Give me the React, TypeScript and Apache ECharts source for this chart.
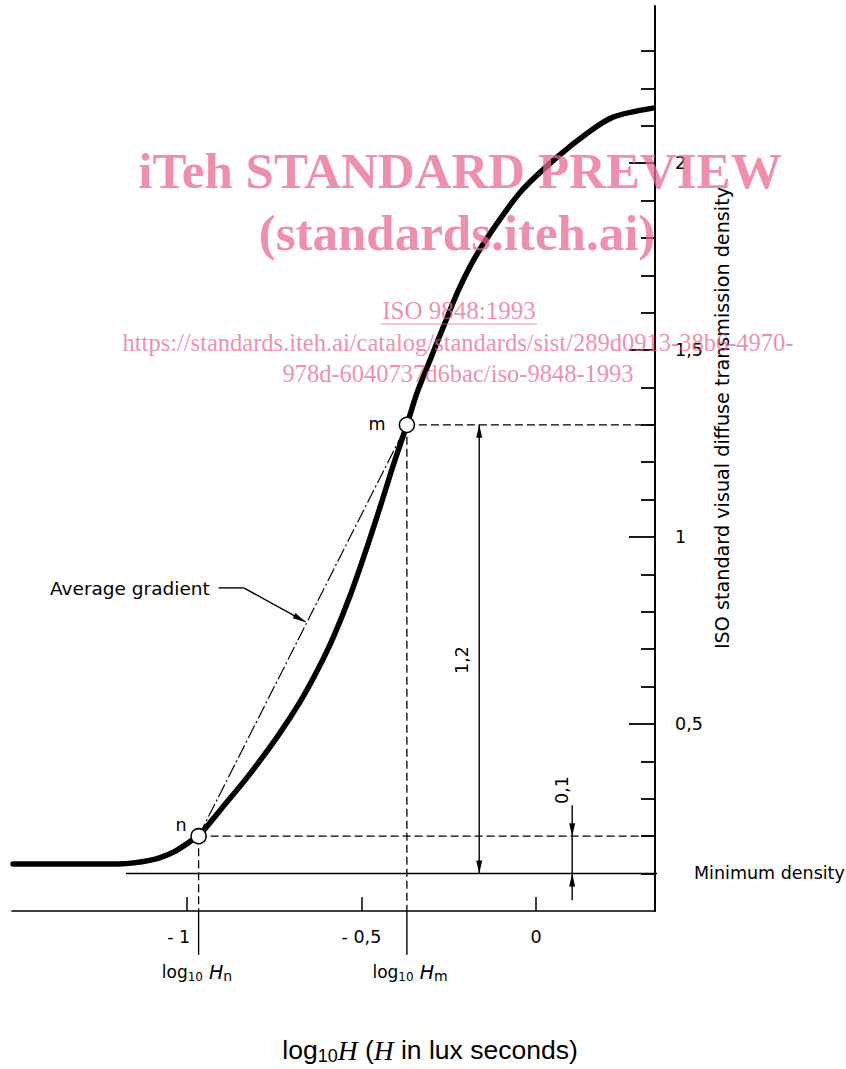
import React, { useEffect, useRef } from "react";
import * as echarts from "echarts";

// ---- data (log10 H, density) ----
const curveX = [-1.497, -1.197, -1.103, -1.037, -0.983, -0.966, -0.903, -0.823, -0.74, -0.674, -0.623, -0.58, -0.531, -0.483, -0.446, -0.409, -0.37, -0.34, -0.297, -0.26, -0.223, -0.174, -0.111, -0.04, 0.06, 0.146, 0.22, 0.334];
const curveY = [0.126, 0.126, 0.136, 0.158, 0.19, 0.2, 0.271, 0.362, 0.467, 0.562, 0.649, 0.733, 0.847, 0.976, 1.082, 1.192, 1.3, 1.388, 1.489, 1.575, 1.659, 1.749, 1.84, 1.928, 2.016, 2.08, 2.123, 2.147];
const pointN = [-0.966, 0.2];
const pointM = [-0.37, 1.3];
const minDensity = 0.1;
const minDensityRange = [-1.174, 0.426];
const xRange = [-1.5, 0.34];
const yRange = [0, 2.42];
const xTickValues = [-1, -0.5, 0];
const yMajorValues = [0.5, 1, 1.5, 2];
const yMinorValues = [0.1, 0.2, 0.3, 0.4, 0.6, 0.7, 0.8, 0.9, 1.1, 1.2, 1.3, 1.4, 1.6, 1.7, 1.8, 1.9, 2.1, 2.2, 2.3];
const belowAxis = -0.117;
// arrows: x1, y1, x2, y2, headAtStart, headAtEnd
const arrow12 = [-0.163, minDensity, -0.163, pointM[1], 1, 1];
const arrow01Top = [0.103, 0.283, 0.103, pointN[1], 0, 1];
const arrow01Mid = [0.103, pointN[1], 0.103, minDensity, 0, 0];
const arrow01Bottom = [0.103, 0.029, 0.103, minDensity, 0, 1];
const leaderA = [-0.909, 0.864, -0.837, 0.864, 0, 0];
const leaderB = [-0.837, 0.864, -0.66, 0.773, 0, 1];

const TECH = '"DejaVu Sans", "Noto Sans", sans-serif';
const SANS = '"Liberation Sans", Arial, sans-serif';
const SERIF = '"Liberation Serif", "Times New Roman", serif';
const PINK = "rgba(235,106,144,0.75)";

const comma = (v: number) => String(v).replace(".", ",");

export default function App() {
  const ref = useRef<HTMLDivElement>(null);
  useEffect(() => {
    if (!ref.current) return;
    const chart = echarts.init(ref.current, null, { renderer: "svg" });
    const curve = curveX.map((x, i) => [x, curveY[i]]);
    const dashed = { color: "#000", width: 1.3, type: [8, 4] as any };
    const solid = { color: "#000", width: 1.4 };
    const lineS = (data: number[][], lineStyle: any, z = 2) => ({
      type: "line",
      data,
      symbol: "none",
      clip: false,
      lineStyle,
      z,
      silent: true,
    });
    const logRich = {
      l: { fontSize: 17, fontFamily: TECH, lineHeight: 22 },
      s: { fontSize: 12, fontFamily: TECH, lineHeight: 12, verticalAlign: "bottom" },
      h: { fontSize: 19, fontFamily: TECH, fontStyle: "italic", lineHeight: 22 },
      t: { fontSize: 14, fontFamily: TECH, lineHeight: 14, verticalAlign: "bottom" },
    };
    const option: any = {
      animation: false,
      backgroundColor: "#fff",
      grid: { left: 12, right: 191, top: 6, bottom: 158, containLabel: false },
      xAxis: {
        type: "value",
        min: xRange[0],
        max: xRange[1],
        axisLine: { show: true, onZero: false, lineStyle: { color: "#000", width: 1.6 } },
        axisTick: { show: true, inside: true, length: 14, customValues: xTickValues, lineStyle: { color: "#000", width: 1.5 } },
        axisLabel: {
          customValues: xTickValues,
          margin: 17,
          color: "#000",
          fontSize: 17.5,
          fontFamily: TECH,
          formatter: (v: number) => (v === 0 ? "0" : v === -1 ? "{p|- 1}" : "- " + comma(Math.abs(v))),
          rich: { p: { fontSize: 17.5, fontFamily: TECH, color: "#000", padding: [0, 16, 0, 0] } },
        },
        splitLine: { show: false },
      },
      yAxis: [
        {
          type: "value",
          position: "right",
          min: yRange[0],
          max: yRange[1],
          axisLine: { show: true, onZero: false, lineStyle: { color: "#000", width: 2 } },
          axisTick: { show: true, inside: true, length: 26, customValues: yMajorValues, lineStyle: { color: "#000", width: 1.8 } },
          axisLabel: {
            customValues: yMajorValues,
            margin: 20,
            color: "#000",
            fontSize: 17.5,
            fontFamily: TECH,
            formatter: (v: number) => comma(v),
          },
          splitLine: { show: false },
        },
        {
          type: "value",
          position: "right",
          min: yRange[0],
          max: yRange[1],
          axisLine: { show: false, onZero: false },
          axisTick: { show: true, inside: true, length: 14, customValues: yMinorValues, lineStyle: { color: "#000", width: 1.8 } },
          axisLabel: { show: false },
          splitLine: { show: false },
        },
      ],
      series: [
        lineS([pointN, [xRange[1], pointN[1]]], dashed),
        lineS([pointM, [xRange[1], pointM[1]]], dashed),
        lineS([pointN, [pointN[0], 0]], dashed),
        lineS([pointM, [pointM[0], 0]], dashed),
        lineS([[pointN[0], 0], [pointN[0], belowAxis]], solid),
        lineS([[pointM[0], 0], [pointM[0], belowAxis]], solid),
        lineS([[minDensityRange[0], minDensity], [minDensityRange[1], minDensity]], { color: "#000", width: 1.5 }),
        lineS([pointN, pointM], { color: "#000", width: 1.2, type: [14, 3, 2, 3] }),
        {
          type: "line",
          data: curve,
          symbol: "none",
          smooth: 0.3,
          clip: false,
          lineStyle: { color: "#000", width: 5.5, cap: "round" },
          z: 3,
          silent: true,
        },
        {
          type: "custom",
          clip: false,
          silent: true,
          z: 3,
          encode: { x: [0, 2], y: [1, 3] },
          data: [arrow12, arrow01Top, arrow01Mid, arrow01Bottom, leaderA, leaderB],
          renderItem: (params: any, api: any) => {
            const p1 = api.coord([api.value(0), api.value(1)]);
            const p2 = api.coord([api.value(2), api.value(3)]);
            const children: any[] = [
              { type: "line", shape: { x1: p1[0], y1: p1[1], x2: p2[0], y2: p2[1] }, style: { stroke: "#000", lineWidth: 1.4 } },
            ];
            const head = (tip: number[], from: number[]) => {
              const dx = tip[0] - from[0];
              const dy = tip[1] - from[1];
              const len = Math.hypot(dx, dy) || 1;
              const ux = dx / len;
              const uy = dy / len;
              const L = 13;
              const W = 3;
              const bx = tip[0] - ux * L;
              const by = tip[1] - uy * L;
              return {
                type: "polygon",
                shape: { points: [[tip[0], tip[1]], [bx - uy * W, by + ux * W], [bx + uy * W, by - ux * W]] },
                style: { fill: "#000" },
              };
            };
            if (api.value(4)) children.push(head(p1, p2));
            if (api.value(5)) children.push(head(p2, p1));
            return { type: "group", children };
          },
        },
        {
          type: "scatter",
          data: [pointN, pointM],
          symbol: "circle",
          symbolSize: 15,
          itemStyle: { color: "#fff", borderColor: "#000", borderWidth: 1.5, opacity: 1 },
          z: 5,
          silent: true,
        },
      ],
      graphic: [
        { type: "text", x: 50, y: 588, style: { text: "Average gradient", fontSize: 18.5, fontFamily: TECH, fill: "#000", verticalAlign: "middle", align: "left" } },
        { type: "text", x: 377, y: 424, style: { text: "m", fontSize: 17.5, fontFamily: TECH, fill: "#000", verticalAlign: "middle", align: "center" } },
        { type: "text", x: 181, y: 825, style: { text: "n", fontSize: 17.5, fontFamily: TECH, fill: "#000", verticalAlign: "middle", align: "center" } },
        { type: "text", x: 462, y: 660, rotation: Math.PI / 2, style: { text: "1,2", fontSize: 17.5, fontFamily: TECH, fill: "#000", verticalAlign: "middle", align: "center" } },
        { type: "text", x: 562, y: 790, rotation: Math.PI / 2, style: { text: "0,1", fontSize: 17.5, fontFamily: TECH, fill: "#000", verticalAlign: "middle", align: "center" } },
        { type: "text", x: 694, y: 873, style: { text: "Minimum density", fontSize: 17.5, fontFamily: TECH, fill: "#000", verticalAlign: "middle", align: "left" } },
        { type: "text", x: 722, y: 418, rotation: Math.PI / 2, style: { text: "ISO standard visual diffuse transmission density", fontSize: 19.2, fontFamily: TECH, fill: "#000", verticalAlign: "middle", align: "center" } },
        { type: "text", x: 197, y: 972, style: { text: "{l|log}{s|10}{h| H}{t|n}", align: "center", verticalAlign: "middle", fill: "#000", rich: logRich } },
        { type: "text", x: 410, y: 972, style: { text: "{l|log}{s|10}{h| H}{t|m}", align: "center", verticalAlign: "middle", fill: "#000", rich: logRich } },
        {
          type: "text", x: 430, y: 1050,
          style: {
            text: "{a|log}{s|10}{h|H}{a| (}{h|H}{a| in lux seconds)}", align: "center", verticalAlign: "middle", fill: "#000",
            rich: {
              a: { fontSize: 26.5, fontFamily: SANS, lineHeight: 30 },
              s: { fontSize: 18, fontFamily: SANS, lineHeight: 16, verticalAlign: "bottom" },
              h: { fontSize: 27.5, fontFamily: SERIF, fontStyle: "italic", lineHeight: 30 },
            },
          },
        },
        // watermark
        { type: "text", x: 460, y: 145, z: 100, style: { text: "iTeh STANDARD PREVIEW", fontSize: 51, fontWeight: "bold", fontFamily: SERIF, fill: PINK, align: "center", verticalAlign: "top" } },
        { type: "text", x: 457, y: 207, z: 100, style: { text: "(standards.iteh.ai)", fontSize: 51, fontWeight: "bold", fontFamily: SERIF, fill: PINK, align: "center", verticalAlign: "top" } },
        { type: "text", x: 459, y: 298, z: 100, style: { text: "ISO 9848:1993", fontSize: 25, fontFamily: SERIF, fill: PINK, align: "center", verticalAlign: "top" } },
        { type: "line", z: 100, shape: { x1: 381, y1: 324, x2: 537, y2: 324 }, style: { stroke: PINK, lineWidth: 1.2 } },
        { type: "text", x: 458, y: 330, z: 100, style: { text: "https://standards.iteh.ai/catalog/standards/sist/289d0913-38b6-4970-", fontSize: 24.5, fontFamily: SERIF, fill: PINK, align: "center", verticalAlign: "top" } },
        { type: "text", x: 458, y: 361, z: 100, style: { text: "978d-6040737d6bac/iso-9848-1993", fontSize: 24.5, fontFamily: SERIF, fill: PINK, align: "center", verticalAlign: "top" } },
      ],
    };
    chart.setOption(option);
    return () => chart.dispose();
  }, []);
  return <div ref={ref} style={{ position: "absolute", left: 0, top: 0, width: 846, height: 1069 }} />;
}
